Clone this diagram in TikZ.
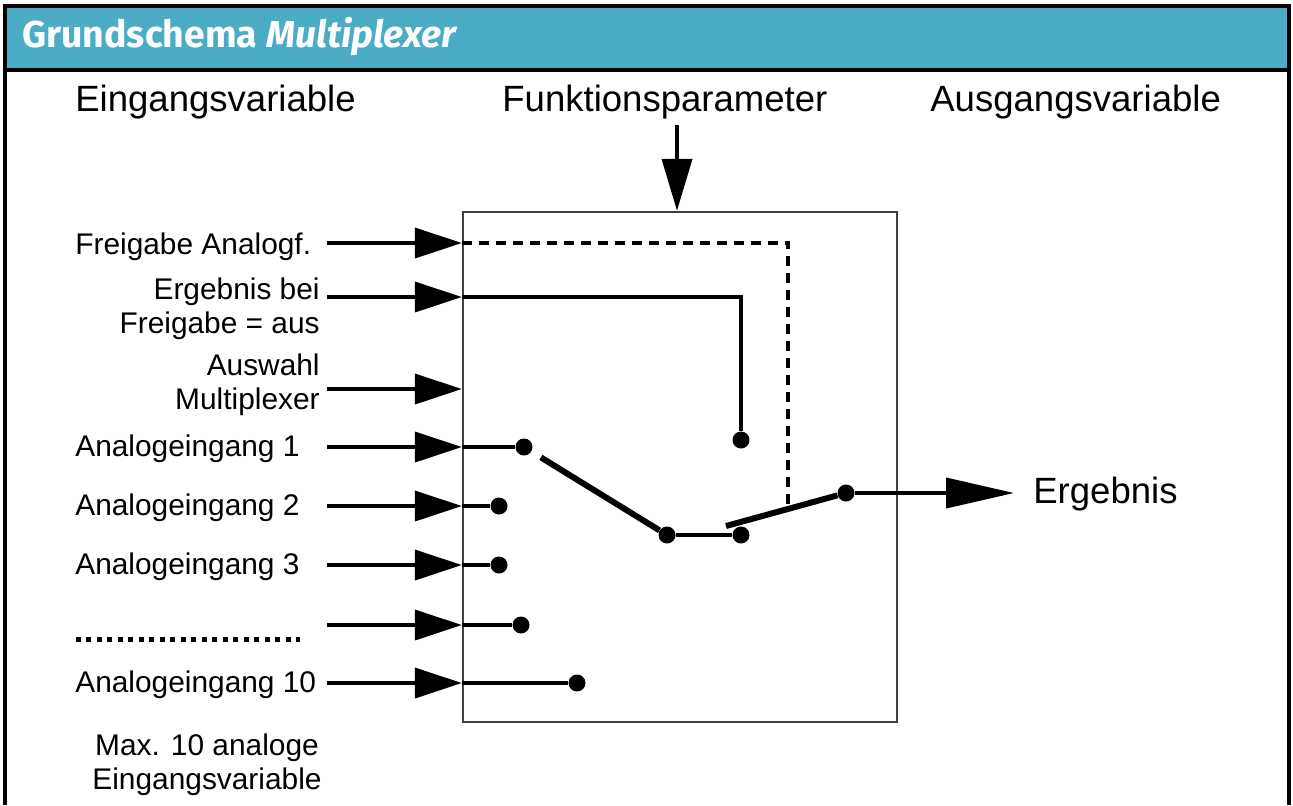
\documentclass[tikz,border=0pt]{standalone}
\usepackage{fontspec}
\setmainfont{Liberation Sans}
\newfontfamily\titlefont{Fira Sans}
\usetikzlibrary{arrows.meta,calc}
\definecolor{headblue}{RGB}{75,172,198}
\tikzset{
    inarrow/.style={line width=2.2pt, -{Triangle[length=0.94cm,width=0.6cm]}},
    outarrow/.style={line width=2.2pt, -{Triangle[length=1.36cm,width=0.6cm]}},
    wire/.style={line width=2.2pt},
    arm/.style={line width=3.4pt},
    dot/.style={circle, fill=black, inner sep=0pt, minimum size=0.34cm},
    lbl/.style={font=\fontsize{17}{19.4}\selectfont, inner sep=0pt},
    head/.style={font=\fontsize{20.8}{24}\selectfont, inner sep=0pt}
}
\begin{document}
\begin{tikzpicture}[x=0.02cm,y=-0.02cm]
        \useasboundingbox (0,0) rectangle (1293,805);
        % Kopfzeile
        \fill[headblue] (5,6) rectangle (1289,70);
        \draw[line width=1.8pt] (5,805) -- (5,6) -- (1289,6) -- (1289,805);
        \draw[line width=1.8pt] (5,70) -- (1289,70);
        \node[anchor=west, text=white, inner sep=0pt, font=\titlefont\bfseries\fontsize{21.3}{24}\selectfont] (title) at (22,37) {Grundschema \textit{Multiplexer}};
        % Spaltenköpfe
        \node[head, anchor=west] (ein) at (75,102) {Eingangsvariable};
        \node[head, anchor=west] (fkt) at (502,102) {Funktionsparameter};
        \node[head, anchor=west] (aus) at (930,102) {Ausgangsvariable};
        % Baustein
        \node[draw=black!75, line width=1.4pt, minimum width=8.68cm, minimum height=10.2cm] (mux) at (680,467) {};
        \coordinate (fp) at (677,125);
        \draw[line width=2.2pt, -{Triangle[length=1.04cm,width=0.6cm]}] (fp) -- (fp |- mux.north);
        % Eingänge
        \node[lbl, anchor=west] (frg) at (75,247) {Freigabe Analogf.};
        \node[lbl, anchor=east, align=right] (erg) at (320,309) {Ergebnis bei\\Freigabe = aus};
        \node[lbl, anchor=east, align=right] (sel) at (320,385) {Auswahl\\Multiplexer};
        \node[lbl, anchor=west] (a1) at (75,449) {Analogeingang 1};
        \node[lbl, anchor=west] (a2) at (75,508) {Analogeingang 2};
        \node[lbl, anchor=west] (a3) at (75,567) {Analogeingang 3};
        \node[lbl, anchor=west] (a10) at (75,685) {Analogeingang 10};
        \draw[line width=0.1cm, dash pattern=on 0.1cm off 0.11cm] (76,639) -- (300,639);
        \node[lbl, align=center] (max) at (207,765) {Max. 10 analoge\\Eingangsvariable};
        \foreach \n/\y in {frg/243, erg/297, sel/389, a1/447, a2/506, a3/565, an/625, a10/683}
        {
            \coordinate (s\n) at (327,\y);
            \draw[inarrow] (s\n) -- (s\n -| mux.west);
        }
        % Kontakte
        \node[dot] (d1) at (524,447) {};
        \node[dot] (d2) at (499,506) {};
        \node[dot] (d3) at (499,565) {};
        \node[dot] (dn) at (521,625) {};
        \node[dot] (d10) at (577,683) {};
        \node[dot] (de) at (741,440) {};
        \node[dot] (m1) at (667,535) {};
        \node[dot] (m2) at (741,535) {};
        \node[dot] (q) at (846,493) {};
        \coordinate (k) at (726,526);
        \coordinate (tip) at (1014,493);
        \foreach \n in {1,2,3,n,10}
            \draw[wire] (sa\n -| mux.west) -- (d\n);
        \draw[wire] (serg -| mux.west) -| (de);
        \draw[wire, dash pattern=on 0.2cm off 0.14cm] (sfrg -| mux.west) -| ($(k)!0.52!(q)$);
        \draw[arm, shorten <=0.22cm] (d1) -- (m1);
        \draw[wire] (m1) -- (m2);
        \draw[arm] (k) -- (q);
        % Ausgang
        \node[head, anchor=west] (out) at (1033,494) {Ergebnis};
        \draw[outarrow] (q) -- (tip);
\end{tikzpicture}
\end{document}
